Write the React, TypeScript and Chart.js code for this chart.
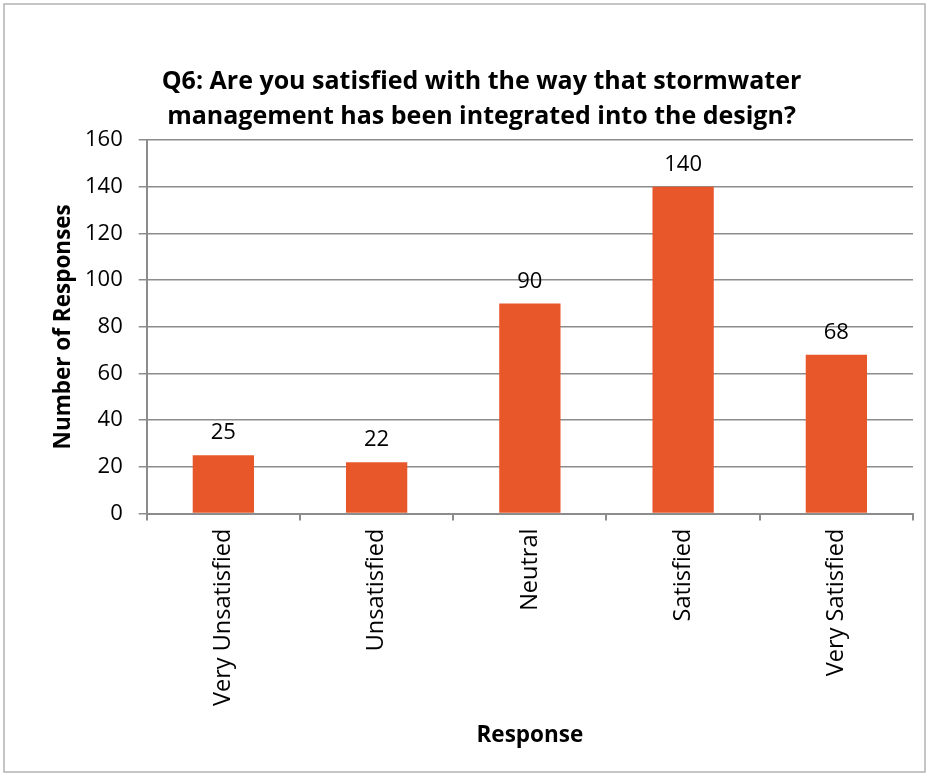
import React, { useEffect, useRef } from "react";
import { Chart, registerables } from "chart.js";

Chart.register(...registerables);

const categories = ["Very Unsatisfied", "Unsatisfied", "Neutral", "Satisfied", "Very Satisfied"];
const responses = [25, 22, 90, 140, 68];
const titleLines = [
  "Q6: Are you satisfied with the way that stormwater",
  "management has been integrated into the design?",
];
const yTitle = "Number of Responses";
const xTitle = "Response";

const FONT = "'Open Sans', 'Noto Sans', sans-serif";

const frame = {
  id: "frame",
  beforeDraw(chart: any) {
    const { ctx, width, height } = chart;
    ctx.save();
    ctx.fillStyle = "#ffffff";
    ctx.fillRect(0, 0, width, height);
    ctx.strokeStyle = "#b3b3b3";
    ctx.lineWidth = 1.5;
    ctx.strokeRect(4, 4, width - 8, height - 8);
    ctx.restore();
  },
};

const valueLabels = {
  id: "valueLabels",
  afterDatasetsDraw(chart: any) {
    const { ctx } = chart;
    const meta = chart.getDatasetMeta(0);
    ctx.save();
    ctx.fillStyle = "#000";
    ctx.font = `22px ${FONT}`;
    ctx.textAlign = "center";
    ctx.textBaseline = "bottom";
    meta.data.forEach((bar: any, i: number) => {
      ctx.fillText(String(chart.data.datasets[0].data[i]), bar.x, bar.y - 11);
    });
    ctx.restore();
  },
};

export default function App() {
  const ref = useRef<HTMLCanvasElement>(null);
  useEffect(() => {
    document.body.style.margin = "0";
    const chart = new Chart(ref.current!, {
      type: "bar",
      data: {
        labels: categories,
        datasets: [
          {
            data: responses,
            backgroundColor: "#e8572a",
            barPercentage: 0.4,
            categoryPercentage: 1,
          },
        ],
      },
      options: {
        animation: false,
        responsive: false,
        layout: { padding: { top: 28, right: 16, bottom: 27, left: 50 } },
        plugins: {
          legend: { display: false },
          tooltip: { enabled: false },
          title: {
            display: true,
            text: titleLines,
            color: "#000",
            font: { family: FONT, size: 25, weight: "bold", lineHeight: 1.4 },
            padding: { top: 36, bottom: 6 },
          },
        },
        scales: {
          x: {
            grid: {
              display: true,
              drawOnChartArea: false,
              drawTicks: true,
              tickLength: 7,
              color: "#8c8c8c",
              lineWidth: 2,
              offset: true,
            },
            border: { display: true, color: "#8c8c8c", width: 2 },
            ticks: {
              color: "#000",
              font: { family: FONT, size: 23.5 },
              minRotation: 90,
              maxRotation: 90,
              padding: 8,
            },
            title: {
              display: true,
              text: xTitle,
              color: "#000",
              font: { family: FONT, size: 22.5, weight: "bold" },
              padding: { top: 8, bottom: 0 },
            },
          },
          y: {
            min: 0,
            max: 160,
            ticks: {
              stepSize: 20,
              color: "#000",
              font: { family: FONT, size: 22 },
              padding: 16,
            },
            grid: { color: "#8c8c8c", lineWidth: 1.5, tickLength: 8 },
            border: { display: true, color: "#8c8c8c", width: 2 },
            title: {
              display: true,
              text: yTitle,
              color: "#000",
              font: { family: FONT, size: 22.5, weight: "bold" },
              padding: { top: 0, bottom: -8 },
            },
          },
        },
      },
      plugins: [frame, valueLabels],
    });
    return () => chart.destroy();
  }, []);
  return <canvas ref={ref} width={929} height={776} style={{ display: "block" }} />;
}
